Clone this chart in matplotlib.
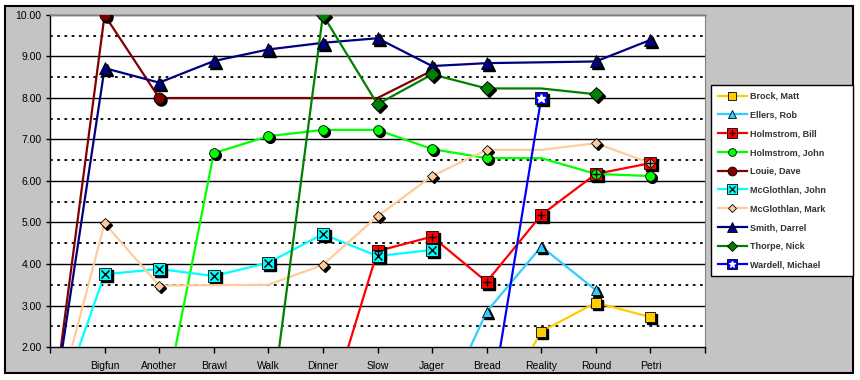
import numpy as np
import matplotlib.pyplot as plt
from matplotlib.transforms import ScaledTranslation
from matplotlib.lines import Line2D
from matplotlib.legend_handler import HandlerTuple
from matplotlib.patches import Rectangle

plt.rcParams['font.family'] = ['Liberation Sans', 'DejaVu Sans']

nan = np.nan
# first and last categories are blank padding columns
categories = ['', 'Bigfun', 'Another', 'Brawl', 'Walk', 'Dinner', 'Slow',
              'Jager', 'Bread', 'Reality', 'Round', 'Petri', '']

brock_matt       = [nan, nan, nan, nan, nan, nan, nan, nan, 0, 2.37, 3.07, 2.72, nan]
ellers_rob       = [nan, nan, nan, nan, nan, nan, nan, 0, 2.85, 4.42, 3.37, nan, nan]
holmstrom_bill   = [nan, nan, nan, nan, nan, 0, 4.31, 4.66, 3.57, 5.18, 6.17, 6.43, nan]
holmstrom_john   = [nan, nan, 0, 6.67, 7.08, 7.23, 7.23, 6.77, 6.55, 6.55, 6.17, 6.12, nan]
louie_dave       = [0, 10.0, 8.0, nan, nan, nan, 8.0, 8.66, nan, nan, nan, nan, nan]
mcglothlan_john  = [0, 3.75, 3.88, 3.71, 4.03, 4.72, 4.19, 4.34, nan, nan, nan, nan, nan]
mcglothlan_mark  = [0, 4.98, 3.48, nan, 3.50, 3.98, 5.15, 6.12, 6.75, 6.75, 6.91, 6.43, nan]
smith_darrel     = [0, 8.72, 8.37, 8.89, 9.17, 9.33, 9.44, 8.77, 8.84, nan, 8.88, 9.40, nan]
thorpe_nick      = [nan, nan, nan, nan, 0, 10.0, 7.85, 8.57, 8.23, 8.23, 8.09, nan, nan]
wardell_michael  = [nan, nan, nan, nan, nan, nan, nan, nan, 0, 8.0, nan, nan, nan]

names = ['Brock, Matt', 'Ellers, Rob', 'Holmstrom, Bill', 'Holmstrom, John',
         'Louie, Dave', 'McGlothlan, John', 'McGlothlan, Mark', 'Smith, Darrel',
         'Thorpe, Nick', 'Wardell, Michael']
series = [brock_matt, ellers_rob, holmstrom_bill, holmstrom_john, louie_dave,
          mcglothlan_john, mcglothlan_mark, smith_darrel, thorpe_nick, wardell_michael]

# style: line color, marker, marker face, size, overlay glyph, overlay color, hidden marker columns
styles = [
    ('#FFCC00', 's', '#FFCC00', 6.5, None, None, []),
    ('#33CCFF', '^', '#33CCFF', 7.5, None, None, []),
    ('#FF0000', 's', '#FF0000', 9, '+', 'black', []),
    ('#00FF00', 'o', '#00FF00', 7, None, None, [9]),
    ('#800000', 'o', '#800000', 8, None, None, [6]),
    ('#00FFFF', 's', '#00FFFF', 9, 'x', 'black', []),
    ('#FFCC99', 'D', '#FFCC99', 5.5, None, None, [4, 9]),
    ('#000080', '^', '#000080', 9, None, None, []),
    ('#008000', 'D', '#008000', 7, None, None, [9]),
    ('#0000FF', 's', '#0000FF', 9, '*', 'white', []),
]

fig = plt.figure(figsize=(8.6, 3.8), dpi=100)
fig.patch.set_facecolor('white')
fig.add_artist(Rectangle((5 / 860, 7 / 380), 848 / 860, 367 / 380,
                         transform=fig.transFigure, facecolor='#C4C4C4',
                         edgecolor='black', linewidth=1.5, zorder=-10))

ax = fig.add_axes([50 / 860, 33 / 380, 655 / 860, 332 / 380])
ax.set_facecolor('white')

x = np.arange(len(categories))
shadow = ax.transData + ScaledTranslation(2 / 100, -2 / 100, fig.dpi_scale_trans)

handles = []
for name, vals, st in zip(names, series, styles):
    color, mk, face, ms, glyph, gcol, hidden = st
    y = np.array(vals, dtype=float)
    ok = ~np.isnan(y)
    xs, ys = x[ok], y[ok]
    ax.plot(xs, ys, color=color, lw=1.6, zorder=3)
    show = np.array([(xi not in hidden) and yi > 0 for xi, yi in zip(xs, ys)])
    mx, my = xs[show], ys[show]
    ax.plot(mx, my, ls='none', marker=mk, ms=ms, color='black',
            transform=shadow, zorder=3)
    ax.plot(mx, my, ls='none', marker=mk, ms=ms, mfc=face, mec='black',
            mew=0.6, zorder=4)
    h = [Line2D([], [], color=color, lw=1.6, marker=mk, ms=ms * 0.8,
                mfc=face, mec='black', mew=0.6)]
    if glyph:
        ax.plot(mx, my, ls='none', marker=glyph, ms=ms * 0.7, color=gcol,
                mew=1.0, zorder=5)
        h.append(Line2D([], [], ls='none', marker=glyph, ms=ms * 0.55,
                        color=gcol, mew=0.9))
    handles.append(tuple(h))

ax.set_xlim(0, 12)
ax.set_ylim(2, 10)
ax.set_xticks(x)
ax.set_xticklabels(categories, fontsize=7.5)
ax.set_yticks(np.arange(2, 11))
ax.set_yticklabels(['%.2f' % v for v in np.arange(2, 11)], fontsize=7.5)
ax.tick_params(axis='x', length=4, width=1, pad=6)
ax.tick_params(axis='y', length=3, width=1, pad=3)

for v in np.arange(2.5, 10, 1.0):
    ax.axhline(v, color='black', lw=1.3, dashes=(1.5, 2.5), zorder=1)
for v in np.arange(3, 10):
    ax.axhline(v, color='black', lw=1.0, zorder=1)
ax.axhline(10, color='black', lw=1.0, zorder=1, clip_on=False)

ax.spines['top'].set_color('#808080')
ax.spines['right'].set_color('#808080')
ax.spines['left'].set_linewidth(1.0)
ax.spines['bottom'].set_linewidth(1.0)

leg = fig.legend(handles, names, loc='upper left',
                 bbox_to_anchor=(711 / 860, 1 - 85 / 380, 142 / 860, 0.0),
                 mode='expand', borderaxespad=0,
                 handler_map={tuple: HandlerTuple(ndivide=1)},
                 prop={'size': 6.5, 'weight': 'bold'}, handlelength=3.2,
                 handletextpad=0.4, labelspacing=1.08, borderpad=0.75,
                 fancybox=False, framealpha=1, edgecolor='black')
leg.get_frame().set_linewidth(1.0)
for t in leg.get_texts():
    t.set_color('#333333')

fig.savefig('out.png', dpi=100, facecolor=fig.get_facecolor())
